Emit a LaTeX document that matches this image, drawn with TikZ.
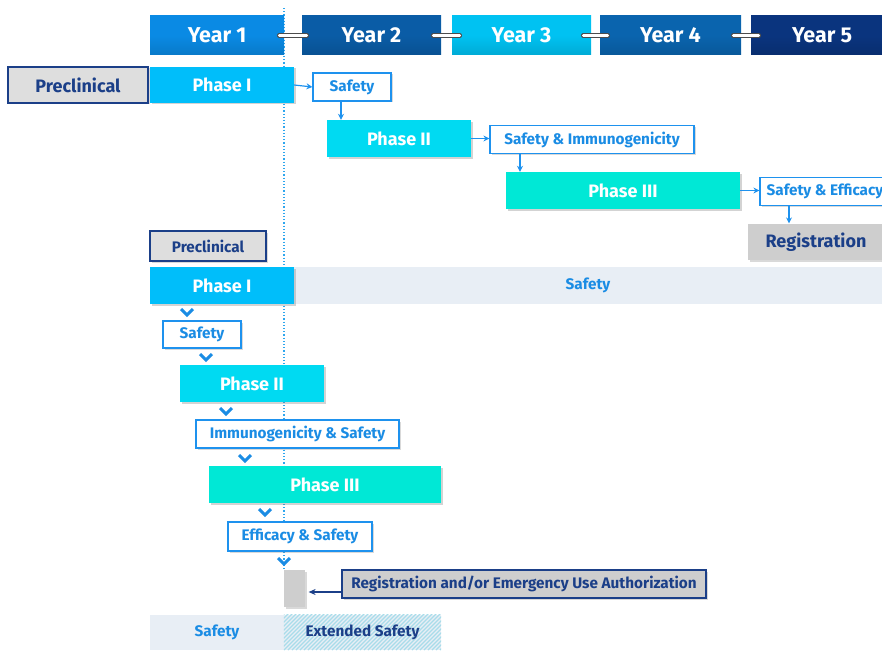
\documentclass[tikz,border=0pt]{standalone}
\usepackage{fontspec}
\setmainfont{Fira Sans}
\usetikzlibrary{arrows.meta,shadows}

\definecolor{yearA}{HTML}{0A8AE4}
\definecolor{yearB}{HTML}{0A5CA6}
\definecolor{yearC}{HTML}{00C2F2}
\definecolor{yearD}{HTML}{0A64AE}
\definecolor{yearE}{HTML}{0A347E}
\definecolor{phaseone}{HTML}{00BEFA}
\definecolor{phasetwo}{HTML}{00DAF2}
\definecolor{phasethree}{HTML}{00E8D6}
\definecolor{boxblue}{HTML}{1E92EE}
\definecolor{txtblue}{HTML}{1A8CE4}
\definecolor{navy}{HTML}{1B3F88}
\definecolor{preg}{HTML}{DEDEDE}
\definecolor{regg}{HTML}{CECECE}
\definecolor{band}{HTML}{E8EEF5}
\definecolor{hatch}{HTML}{A8DCEA}
\definecolor{guide}{HTML}{2EA6EE}

\newcommand\yearfont{\fontsize{21.5}{24}\selectfont\bfseries}
\newcommand\phasefont{\fontsize{18}{21}\selectfont\bfseries}
\newcommand\smallfont{\fontsize{15.3}{18}\selectfont\bfseries}

\begin{document}
\begin{tikzpicture}[x=1pt,y=-1pt,
  year/.style={minimum height=39, inner sep=0, text=white, font=\yearfont},
  yearlink/.style={draw=black!70, double=white, double distance=2.5pt, line width=1pt, line cap=round},
  phase/.style={minimum height=37, inner sep=0, text=white, font=\phasefont,
    drop shadow={opacity=.35, shadow xshift=1.5pt, shadow yshift=-1.5pt}},
  outbox/.style={draw=boxblue, line width=1.2, fill=white, text=txtblue, font=\smallfont,
    minimum height=28, inner sep=0, drop shadow={opacity=.3, shadow xshift=1.5pt, shadow yshift=-1.5pt}},
  grey/.style={draw=navy, line width=1.2, fill=preg, text=navy, inner sep=0,
    drop shadow={opacity=.3, shadow xshift=1.5pt, shadow yshift=-1.5pt}},
  flow/.style={draw=boxblue, line width=1.2, -{Stealth[length=6pt,width=6pt]}},
  chev/.style={draw=txtblue, line width=3, line join=miter}]

\useasboundingbox (0,0) rectangle (882,650);

% Timeline
\draw[guide, dotted, line width=1.2] (284,8) -- (284,570);

\node[year, minimum width=134, top color=yearA, bottom color=yearA!88!black, middle color=yearA] (y1) at (217,35.5) {Year 1};
\node[year, minimum width=139, top color=yearB, bottom color=yearB!88!black, middle color=yearB] (y2) at (371.5,35.5) {Year 2};
\node[year, minimum width=139, top color=yearC, bottom color=yearC!88!black, middle color=yearC] (y3) at (521.5,35.5) {Year 3};
\node[year, minimum width=141, top color=yearD, bottom color=yearD!88!black, middle color=yearD] (y4) at (670.5,35.5) {Year 4};
\node[year, minimum width=142, top color=yearE, bottom color=yearE!88!black, middle color=yearE] (y5) at (822,35.5) {Year 5};

\draw[yearlink] ([xshift=-5pt]y1.east) -- ([xshift=5pt]y2.west);
\draw[yearlink] ([xshift=-8pt]y2.east) -- ([xshift=8pt]y3.west);
\draw[yearlink] ([xshift=-8pt]y3.east) -- ([xshift=8pt]y4.west);
\draw[yearlink] ([xshift=-8pt]y4.east) -- ([xshift=8pt]y5.west);

% Traditional path
\node[grey, minimum width=140, minimum height=36, font=\phasefont] (pre) at (78,85) {Preclinical};
\node[phase, fill=phaseone, minimum width=144, minimum height=36] (p1) at (222,85) {Phase I};
\node[outbox, minimum width=78] (s1) at (352,87) {Safety};
\node[phase, fill=phasetwo, minimum width=144] (p2) at (399,138.5) {Phase II};
\node[outbox, minimum width=204] (si) at (592,139.5) {Safety \& Immunogenicity};
\node[phase, fill=phasethree, minimum width=234] (p3) at (623,190.5) {Phase III};
\node[outbox, minimum width=130] (se) at (825,191.5) {Safety \& Efficacy};
\node[grey, draw=none, fill=regg, minimum width=136, minimum height=36, font=\phasefont] (reg) at (816,242) {Registration};

\draw[flow] (p1.east) -- (s1.west);
\draw[flow] (s1.south -| 341,0) -- (p2.north -| 341,0);
\draw[flow] (p2.east) -- (si.west |- p2.east);
\draw[flow] (si.south -| 520,0) -- (p3.north -| 520,0);
\draw[flow] (p3.east) -- (se.west |- p3.east);
\draw[flow] (se.south -| 789,0) -- (reg.north -| 789,0);

% Pandemic path
\node[fill=band, minimum width=588, minimum height=37, inner sep=0, text=txtblue, font=\smallfont] (band) at (588,285.5) {Safety};
\node[grey, minimum width=116, minimum height=30, font=\smallfont] (pre2) at (208,246) {Preclinical};
\node[phase, fill=phaseone, minimum width=144] (q1) at (222,285.5) {Phase I};
\node[outbox, minimum width=78, minimum height=27] (t1) at (202,334.5) {Safety};
\node[phase, fill=phasetwo, minimum width=144] (q2) at (252,383.5) {Phase II};
\node[outbox, minimum width=203] (t2) at (297.5,434) {Immunogenicity \& Safety};
\node[phase, fill=phasethree, minimum width=232] (q3) at (325,484.5) {Phase III};
\node[outbox, minimum width=144, minimum height=29] (t3) at (300,536.5) {Efficacy \& Safety};
\node[grey, draw=none, fill=regg, minimum width=21, minimum height=37] (r2) at (294.5,588.5) {};
\node[grey, fill=regg, minimum width=364, minimum height=28, font=\smallfont] (eua) at (524,584) {Registration and/or Emergency Use Authorization};

\draw[navy, line width=1.2, -{Stealth[length=7pt,width=6pt]}] ([yshift=-8pt]eua.west) -- ([yshift=-8pt,xshift=3pt]eua.west -| r2.east);

% Chevrons
\foreach \cx/\cy in {187/312, 206/357, 226/411, 245/458, 265/512, 284/561}
  \draw[chev] (\cx-6,\cy-3) -- (\cx,\cy+3) -- (\cx+6,\cy-3);

% Safety follow-up
\node[fill=band, minimum width=134, minimum height=35, inner sep=0] (fs) at (217,632.5) {};
\node[fill=band, minimum width=157, minimum height=35, inner sep=0] (ext) at (362.5,632.5) {};
\begin{scope}
  \clip (ext.south west) rectangle (ext.north east);
  \foreach \hx in {240,244,...,440}
    \draw[hatch, line width=1.3] (\hx,650) -- ++(40,-40);
\end{scope}
\node[text=txtblue, font=\smallfont] at (fs) {Safety};
\node[text=navy, font=\smallfont] at (ext) {Extended Safety};

\end{tikzpicture}
\end{document}
